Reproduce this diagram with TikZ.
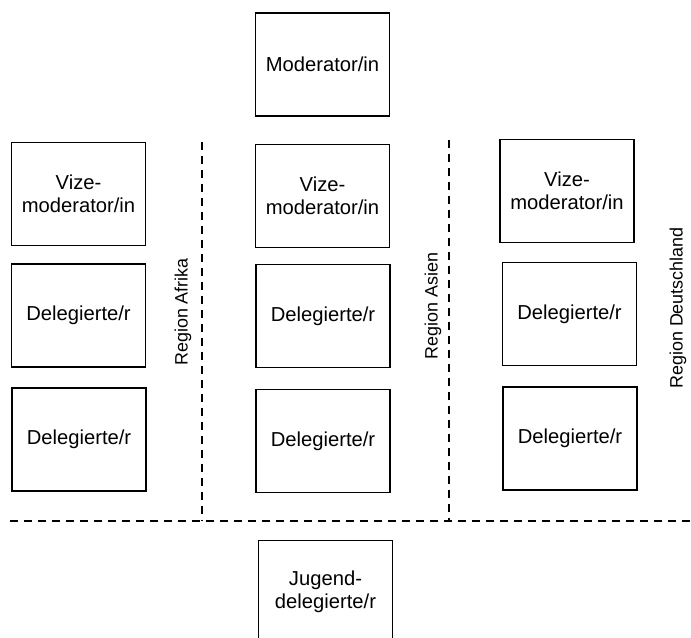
\documentclass[tikz,border=0pt]{standalone}
\usepackage{fontspec}
\setmainfont{Liberation Sans}

\begin{document}
\begin{tikzpicture}[x=0.02cm, y=-0.02cm, line width=0.9pt,
  box/.style={draw, rectangle, minimum width=2.68cm, minimum height=2.06cm,
    align=center, inner sep=0pt, font=\fontsize{11.5}{12.8}\selectfont},
  region/.style={rotate=90, font=\fontsize{10.2}{12}\selectfont},
  divider/.style={line width=0.7pt, dash pattern=on 0.16cm off 0.12cm}]
  \useasboundingbox (0,0) rectangle (691,637);
  % top
  \node[box] (mod) at (322.5,64.5) {Moderator/in};
  % left column
  \node[box] (vizeA) at (78.5,194) {Vize-\\moderator/in};
  \node[box] (delA1) at (78.5,315.5) {Delegierte/r};
  \node[box] (delA2) at (79,439.5) {Delegierte/r};
  % middle column
  \node[box] (vizeB) at (322.5,196) {Vize-\\moderator/in};
  \node[box] (delB1) at (323,316) {Delegierte/r};
  \node[box] (delB2) at (323,441) {Delegierte/r};
  % right column
  \node[box] (vizeC) at (567,191) {Vize-\\moderator/in};
  \node[box] (delC1) at (569.5,314) {Delegierte/r};
  \node[box] (delC2) at (570,438.5) {Delegierte/r};
  % bottom
  \node[box] (jugend) at (325.5,592) {Jugend-\\delegierte/r};
  % region labels
  \node[region] (afrika) at (183,312) {Region Afrika};
  \node[region] (asien) at (433,306) {Region Asien};
  \node[region] (deutsch) at (678,308) {Region Deutschland};
  % dividers
  \coordinate (dA) at (202,142);
  \coordinate (dB) at (449,140);
  \coordinate (hL) at (10,521);
  \coordinate (hR) at (691,521);
  \draw[divider] (dA) -- (dA |- hL);
  \draw[divider] (dB) -- (dB |- hL);
  \draw[divider] (hL) -- (hR);
\end{tikzpicture}
\end{document}
